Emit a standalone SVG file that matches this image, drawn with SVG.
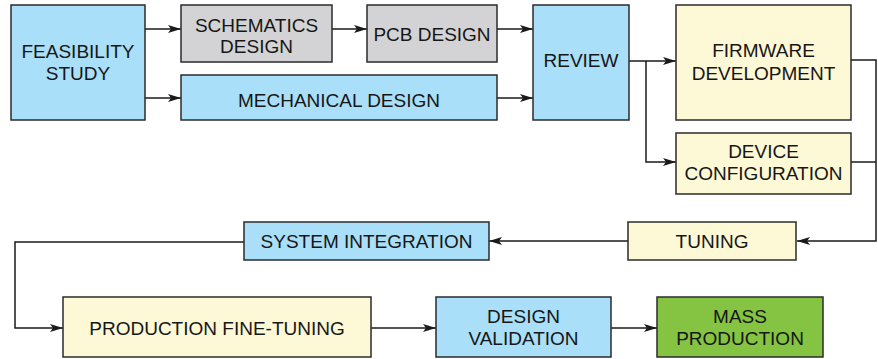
<svg xmlns="http://www.w3.org/2000/svg" width="878" height="359" viewBox="0 0 878 359">
<style>
.n{stroke:#2b2b2b;stroke-width:1.5}
.b{fill:#a9dff8}.g{fill:#d3d3d5}.y{fill:#fdf8d5}.gr{fill:#84c442}
text{font-family:"Liberation Sans",Arial,sans-serif;font-size:19px;fill:#161616;text-anchor:middle}
.c path{fill:none;stroke:#1a1a1a;stroke-width:1.5}
</style>
<defs>
<marker id="a" markerUnits="userSpaceOnUse" markerWidth="14" markerHeight="10" refX="13" refY="5" orient="auto">
<path d="M0,1 L13,5 L0,9 L3,5 z" fill="#1a1a1a"/>
</marker>
</defs>
<g class="c">
<path d="M145,29H181" marker-end="url(#a)"/>
<path d="M145,98H181" marker-end="url(#a)"/>
<path d="M332,29H367" marker-end="url(#a)"/>
<path d="M497,29H533" marker-end="url(#a)"/>
<path d="M497,98H533" marker-end="url(#a)"/>
<path d="M629,61H676" marker-end="url(#a)"/>
<path d="M646,61V162H676" marker-end="url(#a)"/>
<path d="M851,60H876V241H797" marker-end="url(#a)"/>
<path d="M851,162H876"/>
<path d="M628,241H489" marker-end="url(#a)"/>
<path d="M244,242H15V328H63" marker-end="url(#a)"/>
<path d="M371,328H436" marker-end="url(#a)"/>
<path d="M611,328H657" marker-end="url(#a)"/>
</g>
<g id="feasibility"><rect class="n b" x="11" y="5" width="134" height="115"/><text x="78" y="58">FEASIBILITY</text><text x="78" y="80">STUDY</text></g>
<g id="schematics"><rect class="n g" x="181" y="5" width="151" height="57"/><text x="256.5" y="32">SCHEMATICS</text><text x="256.5" y="53">DESIGN</text></g>
<g id="pcb"><rect class="n g" x="367" y="5" width="130" height="57"/><text x="432" y="41">PCB DESIGN</text></g>
<g id="mechanical"><rect class="n b" x="181" y="75" width="316" height="45"/><text x="339" y="107">MECHANICAL DESIGN</text></g>
<g id="review"><rect class="n b" x="533" y="5" width="96" height="115"/><text x="581" y="67">REVIEW</text></g>
<g id="firmware"><rect class="n y" x="676" y="5" width="175" height="115"/><text x="763.5" y="57">FIRMWARE</text><text x="763.5" y="80">DEVELOPMENT</text></g>
<g id="device"><rect class="n y" x="676" y="133" width="175" height="61"/><text x="763.5" y="158">DEVICE</text><text x="763.5" y="180">CONFIGURATION</text></g>
<g id="tuning"><rect class="n y" x="628" y="222" width="168" height="38"/><text x="712" y="248">TUNING</text></g>
<g id="system-integration"><rect class="n b" x="244" y="222" width="245" height="38"/><text x="366.5" y="248">SYSTEM INTEGRATION</text></g>
<g id="production-fine-tuning"><rect class="n y" x="63" y="297" width="308" height="60"/><text x="217" y="335">PRODUCTION FINE-TUNING</text></g>
<g id="design-validation"><rect class="n b" x="436" y="297" width="175" height="60"/><text x="523.5" y="323">DESIGN</text><text x="523.5" y="345">VALIDATION</text></g>
<g id="mass-production"><rect class="n gr" x="657" y="297" width="166" height="60"/><text x="740" y="323">MASS</text><text x="740" y="345">PRODUCTION</text></g>
</svg>
